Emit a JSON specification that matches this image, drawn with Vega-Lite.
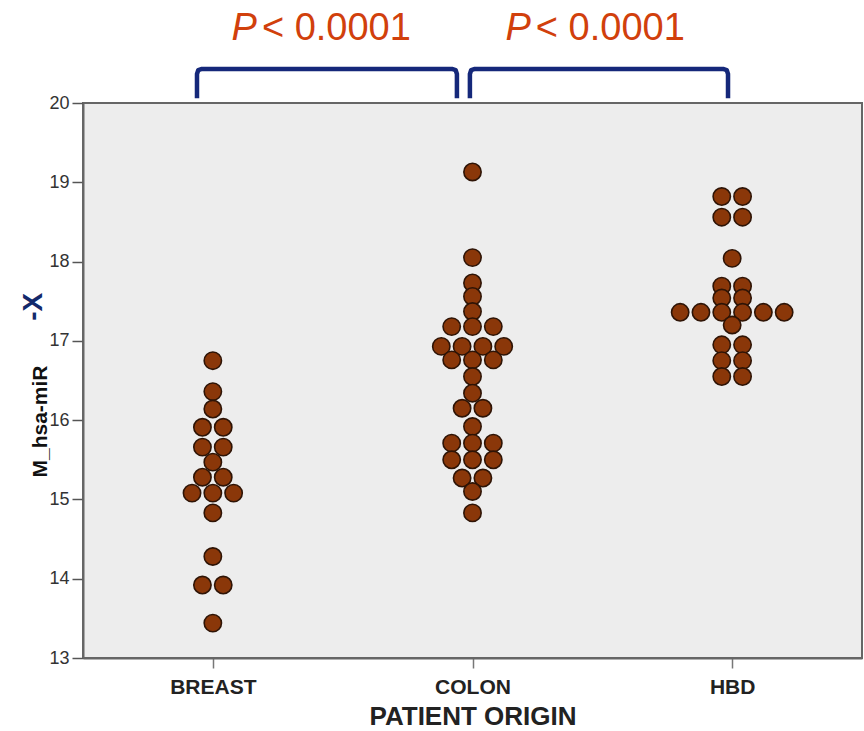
{
  "$schema": "https://vega.github.io/schema/vega-lite/v6.json",
  "autosize": "none",
  "width": 779,
  "height": 555,
  "padding": {"left": 83, "top": 103, "right": 2, "bottom": 73},
  "background": "white",
  "config": {
    "view": {"fill": "#ededed", "stroke": "#666666", "strokeWidth": 2},
    "font": "Liberation Sans"
  },
  "datasets": {
    "pts": [
      {"origin": "BREAST", "slot": 0, "value": 16.75},
      {"origin": "BREAST", "slot": 0, "value": 16.36},
      {"origin": "BREAST", "slot": 0, "value": 16.14},
      {"origin": "BREAST", "slot": -1, "value": 15.91},
      {"origin": "BREAST", "slot": 1, "value": 15.91},
      {"origin": "BREAST", "slot": -1, "value": 15.66},
      {"origin": "BREAST", "slot": 1, "value": 15.66},
      {"origin": "BREAST", "slot": 0, "value": 15.47},
      {"origin": "BREAST", "slot": -1, "value": 15.28},
      {"origin": "BREAST", "slot": 1, "value": 15.28},
      {"origin": "BREAST", "slot": -2, "value": 15.08},
      {"origin": "BREAST", "slot": 0, "value": 15.08},
      {"origin": "BREAST", "slot": 2, "value": 15.08},
      {"origin": "BREAST", "slot": 0, "value": 14.83},
      {"origin": "BREAST", "slot": 0, "value": 14.28},
      {"origin": "BREAST", "slot": -1, "value": 13.92},
      {"origin": "BREAST", "slot": 1, "value": 13.92},
      {"origin": "BREAST", "slot": 0, "value": 13.44},
      {"origin": "COLON", "slot": 0, "value": 19.13},
      {"origin": "COLON", "slot": 0, "value": 18.05},
      {"origin": "COLON", "slot": 0, "value": 17.73},
      {"origin": "COLON", "slot": 0, "value": 17.56},
      {"origin": "COLON", "slot": 0, "value": 17.37},
      {"origin": "COLON", "slot": -2, "value": 17.18},
      {"origin": "COLON", "slot": 0, "value": 17.18},
      {"origin": "COLON", "slot": 2, "value": 17.18},
      {"origin": "COLON", "slot": -3, "value": 16.93},
      {"origin": "COLON", "slot": -1, "value": 16.93},
      {"origin": "COLON", "slot": 1, "value": 16.93},
      {"origin": "COLON", "slot": 3, "value": 16.93},
      {"origin": "COLON", "slot": -2, "value": 16.76},
      {"origin": "COLON", "slot": 0, "value": 16.76},
      {"origin": "COLON", "slot": 2, "value": 16.76},
      {"origin": "COLON", "slot": 0, "value": 16.55},
      {"origin": "COLON", "slot": 0, "value": 16.34},
      {"origin": "COLON", "slot": -1, "value": 16.15},
      {"origin": "COLON", "slot": 1, "value": 16.15},
      {"origin": "COLON", "slot": 0, "value": 15.92},
      {"origin": "COLON", "slot": -2, "value": 15.71},
      {"origin": "COLON", "slot": 0, "value": 15.71},
      {"origin": "COLON", "slot": 2, "value": 15.71},
      {"origin": "COLON", "slot": -2, "value": 15.5},
      {"origin": "COLON", "slot": 0, "value": 15.5},
      {"origin": "COLON", "slot": 2, "value": 15.5},
      {"origin": "COLON", "slot": -1, "value": 15.27},
      {"origin": "COLON", "slot": 1, "value": 15.27},
      {"origin": "COLON", "slot": 0, "value": 15.1},
      {"origin": "COLON", "slot": 0, "value": 14.83},
      {"origin": "HBD", "slot": -1, "value": 18.82},
      {"origin": "HBD", "slot": 1, "value": 18.82},
      {"origin": "HBD", "slot": -1, "value": 18.56},
      {"origin": "HBD", "slot": 1, "value": 18.56},
      {"origin": "HBD", "slot": 0, "value": 18.04},
      {"origin": "HBD", "slot": -1, "value": 17.69},
      {"origin": "HBD", "slot": 1, "value": 17.69},
      {"origin": "HBD", "slot": -1, "value": 17.54},
      {"origin": "HBD", "slot": 1, "value": 17.54},
      {"origin": "HBD", "slot": -5, "value": 17.36},
      {"origin": "HBD", "slot": -3, "value": 17.36},
      {"origin": "HBD", "slot": -1, "value": 17.36},
      {"origin": "HBD", "slot": 1, "value": 17.36},
      {"origin": "HBD", "slot": 3, "value": 17.36},
      {"origin": "HBD", "slot": 5, "value": 17.36},
      {"origin": "HBD", "slot": 0, "value": 17.2},
      {"origin": "HBD", "slot": -1, "value": 16.95},
      {"origin": "HBD", "slot": 1, "value": 16.95},
      {"origin": "HBD", "slot": -1, "value": 16.75},
      {"origin": "HBD", "slot": 1, "value": 16.75},
      {"origin": "HBD", "slot": -1, "value": 16.55},
      {"origin": "HBD", "slot": 1, "value": 16.55}
    ],
    "brackets": [
      {"b": "L", "o": 1, "x": 0.939, "y": 20.06},
      {"b": "L", "o": 2, "x": 0.939, "y": 20.367},
      {"b": "L", "o": 3, "x": 0.944, "y": 20.415},
      {"b": "L", "o": 4, "x": 0.958, "y": 20.43},
      {"b": "L", "o": 5, "x": 1.921, "y": 20.43},
      {"b": "L", "o": 6, "x": 1.935, "y": 20.415},
      {"b": "L", "o": 7, "x": 1.94, "y": 20.367},
      {"b": "L", "o": 8, "x": 1.94, "y": 20.06},
      {"b": "R", "o": 1, "x": 1.99, "y": 20.06},
      {"b": "R", "o": 2, "x": 1.99, "y": 20.367},
      {"b": "R", "o": 3, "x": 1.995, "y": 20.415},
      {"b": "R", "o": 4, "x": 2.009, "y": 20.43},
      {"b": "R", "o": 5, "x": 2.965, "y": 20.43},
      {"b": "R", "o": 6, "x": 2.979, "y": 20.415},
      {"b": "R", "o": 7, "x": 2.984, "y": 20.367},
      {"b": "R", "o": 8, "x": 2.984, "y": 20.06}
    ],
    "pvals": [
      {"xp": 1.17, "xr": 1.189, "y": 20.79},
      {"xp": 2.225, "xr": 2.244, "y": 20.79}
    ],
    "ylab": [
      {"x": 0.31, "y": 17.43, "t": "-X"}
    ]
  },
  "layer": [
    {
      "data": {"name": "pts"},
      "mark": {"type": "point", "filled": true, "shape": "circle", "size": 300, "fill": "#8a3709", "stroke": "#2e1406", "strokeWidth": 1.6, "opacity": 1},
      "encoding": {
        "x": {
          "field": "origin", "type": "nominal",
          "scale": {"type": "point", "padding": 0.5, "domain": ["BREAST", "COLON", "HBD"]},
          "axis": {
            "title": "PATIENT ORIGIN", "titleFont": "Liberation Sans", "titleFontSize": 26, "titleFontWeight": "bold", "titleColor": "#222222", "titlePadding": 6,
            "labelAngle": 0, "labelFont": "Liberation Sans", "labelFontSize": 21, "labelFontWeight": "bold", "labelColor": "#222222", "labelPadding": 8,
            "tickSize": 10, "tickColor": "#777777", "tickWidth": 1.5,
            "domainColor": "#666666", "domainWidth": 2, "grid": false
          }
        },
        "xOffset": {"field": "slot", "type": "quantitative", "scale": {"domain": [-10, 10], "range": [-104, 104]}},
        "y": {
          "field": "value", "type": "quantitative",
          "scale": {"domain": [13, 20], "zero": false, "nice": false},
          "axis": {
            "title": "M_hsa-miR", "titleFont": "Liberation Sans", "titleFontSize": 21, "titleFontWeight": "bold", "titleColor": "#111111",
            "titleAngle": 270, "titleX": -37, "titleY": 318, "titleAlign": "center", "titleBaseline": "alphabetic",
            "values": [13, 14, 15, 16, 17, 18, 19, 20], "format": "d",
            "labelFont": "Liberation Sans", "labelFontSize": 18, "labelColor": "#333333", "labelPadding": 3,
            "tickSize": 11, "tickColor": "#555555", "tickWidth": 1.5,
            "domainColor": "#666666", "domainWidth": 2, "grid": false
          }
        }
      }
    },
    {
      "data": {"name": "brackets"},
      "mark": {"type": "line", "color": "#15287a", "strokeWidth": 4.5, "strokeJoin": "round", "strokeCap": "butt", "clip": false},
      "encoding": {
        "x": {"field": "x", "type": "quantitative", "scale": {"domain": [0.5, 3.5], "zero": false, "nice": false}, "axis": null},
        "y": {"field": "y", "type": "quantitative", "scale": {"domain": [13, 20], "zero": false, "nice": false}},
        "detail": {"field": "b", "type": "nominal"},
        "order": {"field": "o", "type": "quantitative"}
      }
    },
    {
      "data": {"name": "pvals"},
      "mark": {"type": "text", "text": "P", "align": "right", "baseline": "alphabetic", "font": "Liberation Sans", "fontSize": 38, "fontStyle": "italic", "color": "#d1400c", "clip": false},
      "encoding": {
        "x": {"field": "xp", "type": "quantitative", "scale": {"domain": [0.5, 3.5], "zero": false, "nice": false}, "axis": null},
        "y": {"field": "y", "type": "quantitative", "scale": {"domain": [13, 20], "zero": false, "nice": false}}
      }
    },
    {
      "data": {"name": "pvals"},
      "mark": {"type": "text", "text": "< 0.0001", "align": "left", "baseline": "alphabetic", "font": "Liberation Sans", "fontSize": 38, "color": "#d1400c", "clip": false},
      "encoding": {
        "x": {"field": "xr", "type": "quantitative", "scale": {"domain": [0.5, 3.5], "zero": false, "nice": false}, "axis": null},
        "y": {"field": "y", "type": "quantitative", "scale": {"domain": [13, 20], "zero": false, "nice": false}}
      }
    },
    {
      "data": {"name": "ylab"},
      "mark": {"type": "text", "angle": 270, "align": "center", "baseline": "middle", "font": "Liberation Sans", "fontSize": 28, "fontWeight": "bold", "color": "#13296b", "clip": false},
      "encoding": {
        "x": {"field": "x", "type": "quantitative", "scale": {"domain": [0.5, 3.5], "zero": false, "nice": false}, "axis": null},
        "y": {"field": "y", "type": "quantitative", "scale": {"domain": [13, 20], "zero": false, "nice": false}},
        "text": {"field": "t", "type": "nominal"}
      }
    }
  ],
  "resolve": {"scale": {"x": "independent"}, "axis": {"x": "independent"}}
}
